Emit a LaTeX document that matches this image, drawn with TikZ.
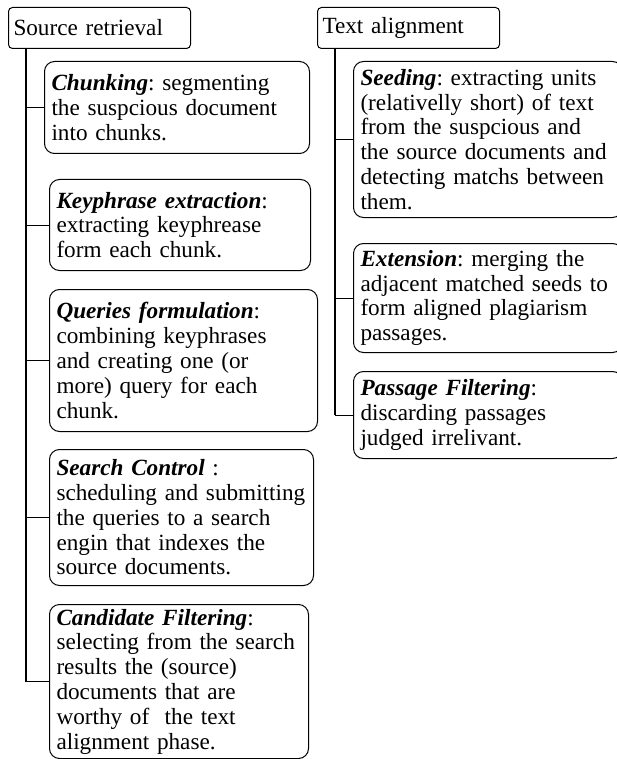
\documentclass[tikz,border=0pt]{standalone}
\usepackage{fontspec}
\setmainfont{Liberation Serif}
\usepackage{tikz}
\usetikzlibrary{calc}
\frenchspacing
\tikzset{
phasebox/.style={draw, line width=0.5pt, rounded corners=2pt, anchor=north west, align=left, inner xsep=2.5pt, inner ysep=0pt, text width=86pt, minimum height=20.5pt, font=\fontsize{11.6}{12.4}\selectfont},
stepbox/.style={draw, line width=0.5pt, rounded corners=5pt, anchor=north west, align=left, inner xsep=3.5pt, inner ysep=0pt, font=\fontsize{11.6}{12.4}\selectfont},
spine/.style={line width=1pt},
branch/.style={line width=0.5pt}
}
\newcommand{\term}[1]{\textbf{\textit{#1}}}

\begin{document}
\begin{tikzpicture}[x=0.5pt, y=-0.5pt]
\useasboundingbox (0,0) rectangle (616,759);

% source retrieval
\node[phasebox] (src) at (8,7) {Source retrieval};
\node[stepbox, text width=125.5pt, minimum height=46pt] (chunk) at (44,61) {\term{Chunking}: segmenting\\ the suspcious document\\ into chunks.};
\node[stepbox, text width=123.5pt, minimum height=45.5pt] (key) at (49,179) {\term{Keyphrase extraction}:\\ extracting keyphrease\\ form each chunk.};
\node[stepbox, text width=127pt, minimum height=71pt] (query) at (49,289) {\term{Queries formulation}:\\ combining keyphrases\\ and creating one (or\\ more) query for each\\ chunk.};
\node[stepbox, text width=125pt, minimum height=68pt] (search) at (49,449) {\term{Search Control} :\\ scheduling and submitting\\ the queries to a search\\ engin that indexes the\\ source documents.};
\node[stepbox, text width=122.5pt, minimum height=77pt] (cand) at (49,604) {\term{Candidate Filtering}:\\ selecting from the search\\ results the (source)\\ documents that are\\ worthy of\ \ the text\\ alignment phase.};

\coordinate (lsp) at ($(src.south west)+(18,0)$);
\draw[spine] (lsp) -- (lsp |- cand.west);
\foreach \n in {chunk, key, query, search, cand}{
\draw[branch] (lsp |- \n.west) -- (\n.west);
}

% text alignment
\node[phasebox] (ta) at (317,7) {Text alignment};
\node[stepbox, text width=127.5pt, minimum height=78pt] (seed) at (353,61) {\term{Seeding}: extracting units\\ (relativelly short) of text\\ from the suspcious and\\ the source documents and\\ detecting matchs between\\ them.};
\node[stepbox, text width=127.5pt, minimum height=54.5pt] (ext) at (353,243) {\term{Extension}: merging the\\ adjacent matched seeds to\\ form aligned plagiarism\\ passages.};
\node[stepbox, text width=127.5pt, minimum height=43.5pt] (pass) at (353,371) {\term{Passage Filtering}:\\ discarding passages\\ judged irrelivant.};

\coordinate (rsp) at ($(ta.south west)+(18,0)$);
\draw[spine] (rsp) -- (rsp |- pass.west);
\foreach \n in {seed, ext, pass}{
\draw[branch] (rsp |- \n.west) -- (\n.west);
}
\end{tikzpicture}
\end{document}
